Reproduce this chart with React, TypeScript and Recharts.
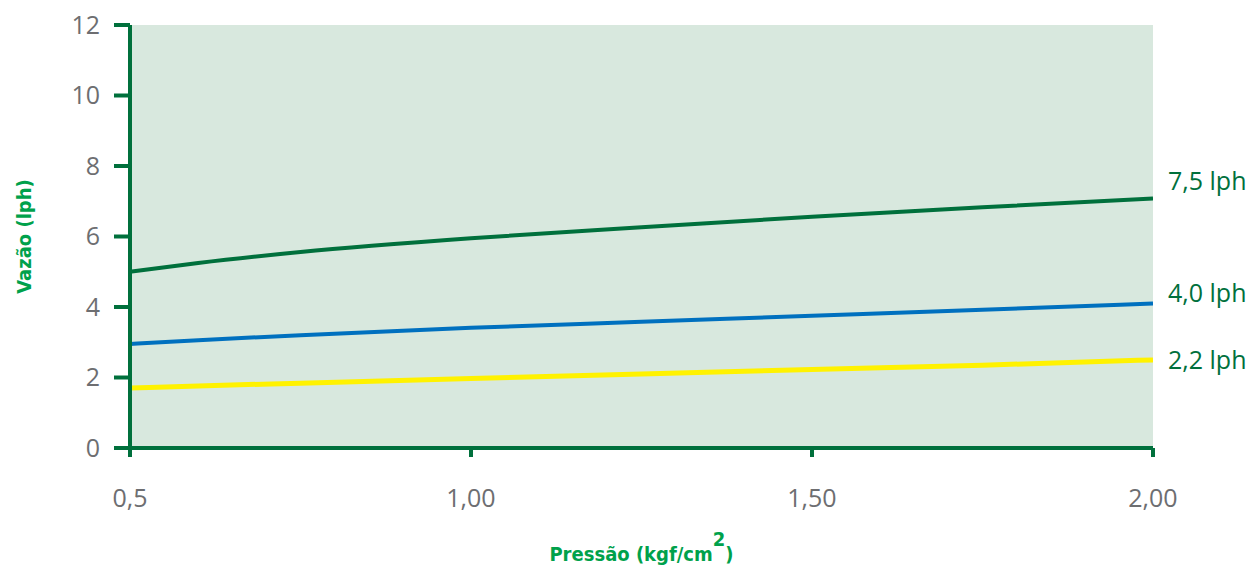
import React from "react";
import { LineChart, Line, XAxis, YAxis, CartesianGrid, Label } from "recharts";

const pressures = [0.5, 0.6, 0.75, 1.0, 1.25, 1.5, 1.75, 2.0];
const flow75 = [5.0, 5.25, 5.56, 5.95, 6.26, 6.56, 6.83, 7.08];
const flow40 = [2.95, 3.06, 3.2, 3.41, 3.58, 3.75, 3.92, 4.1];
const flow22 = [1.7, 1.76, 1.84, 1.97, 2.1, 2.23, 2.35, 2.5];
const xTicks = [0.5, 1.0, 1.5, 2.0];
const xTickLabels = ["0,5", "1,00", "1,50", "2,00"];
const yTicks = [0, 2, 4, 6, 8, 10, 12];
const seriesLabels = ["7,5 lph", "4,0 lph", "2,2 lph"];

const data = pressures.map((p, i) => ({
  p,
  a: flow75[i],
  b: flow40[i],
  c: flow22[i],
}));

const DARK = "#00703C";
const TITLE = "#00A14B";
const GRAY = "#6D6E71";
const BG = "#D8E8DE";
const TICK_FONT = "'Open Sans', 'Noto Sans', sans-serif";
const TITLE_FONT = "'DejaVu Sans Condensed', 'DejaVu Sans', sans-serif";

const endLabel = (text: string, dy: number) => (props: any) => {
  const { x, y, index } = props;
  if (index !== data.length - 1) return null;
  return (
    <text
      x={x + 15}
      y={y + dy}
      fill={DARK}
      fontSize={25}
      fontFamily={TICK_FONT}
      dominantBaseline="middle"
    >
      {text}
    </text>
  );
};

export default function App() {
  return (
    <div style={{ position: "absolute", left: 0, top: 0, width: 1258, height: 573, background: "#fff" }}>
      <LineChart
        width={1258}
        height={573}
        data={data}
        margin={{ top: 25, right: 105, left: 0, bottom: 0 }}
      >
        <CartesianGrid horizontal={false} vertical={false} fill={BG} stroke="none" />
        <XAxis
          dataKey="p"
          type="number"
          domain={[0.5, 2]}
          ticks={xTicks}
          tickFormatter={(v: number) => xTickLabels[xTicks.indexOf(v)] ?? String(v)}
          height={125}
          tickSize={9}
          tickMargin={32}
          axisLine={{ stroke: DARK, strokeWidth: 4 }}
          tickLine={{ stroke: DARK, strokeWidth: 4 }}
          tick={{ fill: GRAY, fontSize: 25, fontFamily: TICK_FONT }}
          allowDataOverflow
        >
          <Label
            content={(props: any) => {
              const vb = props.viewBox || {};
              return (
                <text
                  x={vb.x + vb.width / 2}
                  y={vb.y + 113}
                  textAnchor="middle"
                  fill={TITLE}
                  fontSize={20}
                  fontWeight="bold"
                  fontFamily={TITLE_FONT}
                  style={{ fontStretch: "condensed" }}
                >
                  Pressão (kgf/cm
                  <tspan dy={-15}>2</tspan>
                  <tspan dy={15}>)</tspan>
                </text>
              );
            }}
          />
        </XAxis>
        <YAxis
          type="number"
          domain={[0, 12]}
          ticks={yTicks}
          width={130}
          tickSize={16}
          tickMargin={14}
          axisLine={{ stroke: DARK, strokeWidth: 4 }}
          tickLine={{ stroke: DARK, strokeWidth: 4 }}
          tick={{ fill: GRAY, fontSize: 25, fontFamily: TICK_FONT }}
        >
          <Label
            content={(props: any) => {
              const vb = props.viewBox || {};
              const cx = vb.x + 25;
              const cy = vb.y + vb.height / 2;
              return (
                <text
                  x={cx}
                  y={cy}
                  transform={`rotate(-90, ${cx}, ${cy})`}
                  textAnchor="middle"
                  dominantBaseline="middle"
                  fill={TITLE}
                  fontSize={20}
                  fontWeight="bold"
                  fontFamily={TITLE_FONT}
                  style={{ fontStretch: "condensed" }}
                >
                  Vazão (lph)
                </text>
              );
            }}
          />
        </YAxis>
        <Line
          type="monotone"
          dataKey="a"
          stroke={DARK}
          strokeWidth={4}
          dot={false}
          isAnimationActive={false}
          label={endLabel(seriesLabels[0], -15)}
        />
        <Line
          type="monotone"
          dataKey="b"
          stroke="#0070BF"
          strokeWidth={4}
          dot={false}
          isAnimationActive={false}
          label={endLabel(seriesLabels[1], -8)}
        />
        <Line
          type="monotone"
          dataKey="c"
          stroke="#FFF200"
          strokeWidth={5}
          dot={false}
          isAnimationActive={false}
          label={endLabel(seriesLabels[2], 2)}
        />
      </LineChart>
    </div>
  );
}
